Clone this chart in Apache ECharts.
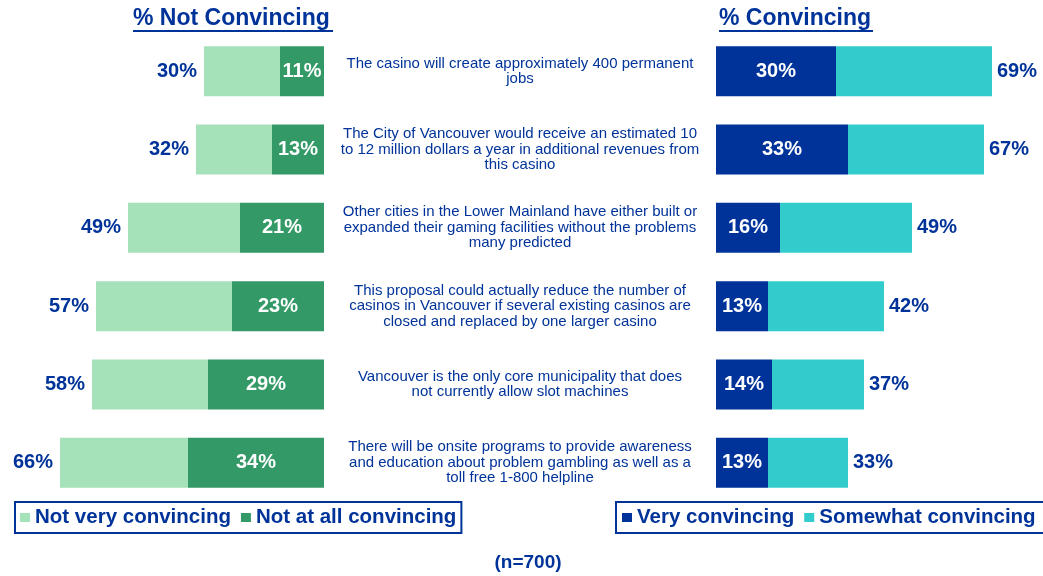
<!DOCTYPE html>
<html>
<head>
<meta charset="utf-8">
<script src="https://cdn.jsdelivr.net/npm/echarts@6/dist/echarts.min.js"></script>
<style>
  html, body { margin: 0; padding: 0; background: #fff; }
  #chart { width: 1043px; height: 576px; }
</style>
</head>
<body>
<div id="chart"></div>
<script>
// statements, top to bottom
var statements = [
    'The casino will create approximately 400 permanent\njobs',
    'The City of Vancouver would receive an estimated 10\nto 12 million dollars a year in additional revenues from\nthis casino',
    'Other cities in the Lower Mainland have either built or\nexpanded their gaming facilities without the problems\nmany predicted',
    'This proposal could actually reduce the number of\ncasinos in Vancouver if several existing casinos are\nclosed and replaced by one larger casino',
    'Vancouver is the only core municipality that does\nnot currently allow slot machines',
    'There will be onsite programs to provide awareness\nand education about problem gambling as well as a\ntoll free 1-800 helpline'
];

// % not convincing
var notAtAll = [11, 13, 21, 23, 29, 34];
var notVery = [19, 19, 28, 34, 29, 32];
var totalNot = [30, 32, 49, 57, 58, 66];

// % convincing
var veryConv = [30, 33, 16, 13, 14, 13];
var somewhatConv = [39, 34, 33, 29, 23, 20];
var totalConv = [69, 67, 49, 42, 37, 33];

var navy = '#003399';
var font = 'Liberation Sans, Arial, sans-serif';

var myChart = echarts.init(document.getElementById('chart'));

var insideLabel = {
    show: true,
    position: 'inside',
    color: '#fff',
    fontFamily: font,
    fontWeight: 'bold',
    fontSize: 20,
    formatter: '{c}%'
};

var legendText = { color: navy, fontFamily: font, fontWeight: 'bold', fontSize: 20.5 };

var option = {
    animation: false,
    textStyle: { fontFamily: font },
    grid: [
        { left: 4, top: 32, width: 320, height: 470, outerBoundsMode: 'none' },
        { left: 716, top: 32, width: 320, height: 470, outerBoundsMode: 'none' }
    ],
    xAxis: [
        { gridIndex: 0, type: 'value', min: 0, max: 80, inverse: true, show: false },
        { gridIndex: 1, type: 'value', min: 0, max: 80, show: false }
    ],
    yAxis: [
        {
            gridIndex: 0, type: 'category', data: statements, inverse: true,
            axisLine: { show: false }, axisTick: { show: false }, axisLabel: { show: false }
        },
        {
            gridIndex: 1, type: 'category', data: statements, inverse: true,
            axisLine: { show: false }, axisTick: { show: false },
            axisLabel: {
                align: 'center', margin: 196,
                color: navy, fontFamily: font, fontSize: 15, lineHeight: 15.5
            }
        }
    ],
    legend: [
        {
            data: ['Not very convincing', 'Not at all convincing'],
            left: 15, top: 502,
            orient: 'horizontal',
            icon: 'rect', itemWidth: 10, itemHeight: 9, itemGap: 10,
            padding: [5, 5, 5, 5],
            borderColor: navy, borderWidth: 2,
            textStyle: legendText
        },
        {
            data: ['Very convincing', 'Somewhat convincing'],
            left: 616, top: 502, width: 470,
            orient: 'horizontal',
            icon: 'rect', itemWidth: 10, itemHeight: 9, itemGap: 10,
            padding: [5, 30, 5, 6],
            borderColor: navy, borderWidth: 2,
            textStyle: legendText
        }
    ],
    graphic: [
        {
            type: 'text', left: 133, top: 7,
            style: { text: '% Not Convincing', fill: navy, font: 'bold 23px ' + font }
        },
        {
            type: 'line', shape: { x1: 133, y1: 31, x2: 333, y2: 31 },
            style: { stroke: navy, lineWidth: 2 }
        },
        {
            type: 'text', left: 719, top: 7,
            style: { text: '% Convincing', fill: navy, font: 'bold 23px ' + font }
        },
        {
            type: 'line', shape: { x1: 719, y1: 31, x2: 873, y2: 31 },
            style: { stroke: navy, lineWidth: 2 }
        },
        {
            type: 'text', x: 528, y: 563,
            style: {
                text: '(n=700)', fill: navy, font: 'bold 19px ' + font,
                textAlign: 'center', textVerticalAlign: 'middle'
            }
        }
    ],
    series: [
        {
            name: 'Not at all convincing', type: 'bar', stack: 'not',
            xAxisIndex: 0, yAxisIndex: 0, barWidth: 50,
            itemStyle: { color: '#339966' },
            label: insideLabel,
            data: notAtAll
        },
        {
            name: 'Not very convincing', type: 'bar', stack: 'not',
            xAxisIndex: 0, yAxisIndex: 0, barWidth: 50,
            itemStyle: { color: '#A5E1B9' },
            label: {
                show: true, position: 'left', distance: 7,
                color: navy, fontFamily: font, fontWeight: 'bold', fontSize: 20,
                formatter: function (p) { return totalNot[p.dataIndex] + '%'; }
            },
            data: notVery
        },
        {
            name: 'Very convincing', type: 'bar', stack: 'conv',
            xAxisIndex: 1, yAxisIndex: 1, barWidth: 50,
            itemStyle: { color: '#003399' },
            label: insideLabel,
            data: veryConv
        },
        {
            name: 'Somewhat convincing', type: 'bar', stack: 'conv',
            xAxisIndex: 1, yAxisIndex: 1, barWidth: 50,
            itemStyle: { color: '#33CCCC' },
            label: {
                show: true, position: 'right', distance: 5,
                color: navy, fontFamily: font, fontWeight: 'bold', fontSize: 20,
                formatter: function (p) { return totalConv[p.dataIndex] + '%'; }
            },
            data: somewhatConv
        }
    ]
};

myChart.setOption(option);
</script>
</body>
</html>
